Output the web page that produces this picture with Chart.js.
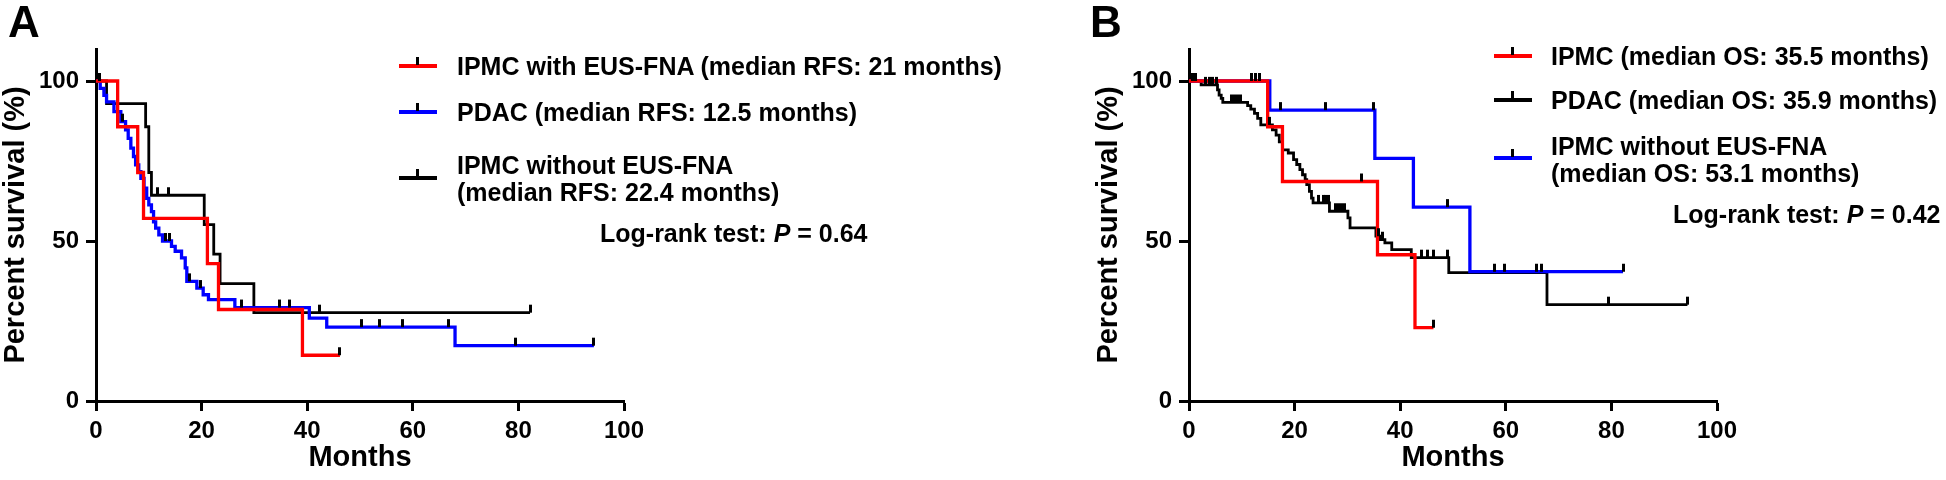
<!DOCTYPE html>
<html>
<head>
<meta charset="utf-8">
<script src="https://cdn.jsdelivr.net/npm/chart.js@4.4.1/dist/chart.umd.min.js"></script>
<style>
  html, body { margin: 0; padding: 0; background: #fff; }
  body { width: 1946px; height: 480px; position: relative; overflow: hidden;
         font-family: "Liberation Sans", Arial, sans-serif; font-weight: bold; color: #000; }
  canvas { position: absolute; top: 0; }
  #chartA { left: 0; }
  #chartB { left: 973px; }
  .panel { position: absolute; top: 0; font-size: 44px; line-height: 44px; }
  .leg { position: absolute; font-size: 25px; line-height: 27px; white-space: nowrap; }
  .sw { position: absolute; width: 38px; height: 4px; }
  .sw::after { content: ''; position: absolute; left: 17px; top: -7px; width: 3px; height: 8px; background: #000; }
</style>
</head>
<body>
<canvas id="chartA" width="973" height="480"></canvas>
<canvas id="chartB" width="973" height="480"></canvas>

<div class="panel" style="left:8px">A</div>
<div class="panel" style="left:1090px">B</div>

<!-- legend A -->
<div class="sw" style="left:399px; top:64px; background:#ff0000"></div>
<div class="leg" style="left:457px; top:53px">IPMC with EUS-FNA (median RFS: 21 months)</div>
<div class="sw" style="left:399px; top:110px; background:#0000ff"></div>
<div class="leg" style="left:457px; top:99px">PDAC (median RFS: 12.5 months)</div>
<div class="sw" style="left:399px; top:176px; background:#000"></div>
<div class="leg" style="left:457px; top:152px">IPMC without EUS-FNA<br>(median RFS: 22.4 months)</div>
<div class="leg" style="left:600px; top:220px">Log-rank test: <i>P</i> = 0.64</div>

<!-- legend B -->
<div class="sw" style="left:1494px; top:54px; background:#ff0000"></div>
<div class="leg" style="left:1551px; top:43px">IPMC (median OS: 35.5 months)</div>
<div class="sw" style="left:1494px; top:98px; background:#000"></div>
<div class="leg" style="left:1551px; top:87px">PDAC (median OS: 35.9 months)</div>
<div class="sw" style="left:1494px; top:156px; background:#0000ff"></div>
<div class="leg" style="left:1551px; top:133px">IPMC without EUS-FNA<br>(median OS: 53.1 months)</div>
<div class="leg" style="left:1673px; top:201px">Log-rank test: <i>P</i> = 0.42</div>

<script>
// axis ticks
const xTicks = [0, 20, 40, 60, 80, 100];
const yTicks = [0, 50, 100];

// Panel A - recurrence-free survival
const aIpmcWithT = [0, 4.1, 7.9, 9.0, 21.1, 23.2, 39.1, 46.2];
const aIpmcWithS = [100, 85.7, 71.4, 57.1, 42.9, 28.6, 14.3, 14.3];
const aIpmcWithCensT = [46.2];
const aIpmcWithCensS = [14.3];

const aPdacT = [0, 0.8, 1.5, 2.0, 3.4, 4.7, 5.6, 6.1, 6.6, 7.1, 7.5, 8.1, 8.5, 9.1, 9.6, 10.0, 10.5, 10.9, 11.3, 11.9,
                12.6, 14.3, 15.0, 16.2, 16.9, 17.2, 19.1, 20.3, 21.3, 26.3, 40.4, 43.7, 68.0, 94.3];
const aPdacS = [100, 97.7, 95.5, 93.5, 90.4, 87.3, 84.7, 82.1, 79.0, 76.4, 73.8, 71.7, 69.6, 66.5, 63.3, 61.3, 59.2, 56.0, 54.0, 51.9,
                50.0, 48.3, 46.8, 44.7, 41.6, 37.4, 35.3, 33.2, 31.7, 29.2, 25.9, 23.1, 17.3, 17.3];
const aPdacCensT = [5.0, 13.1, 13.9, 17.8, 19.7, 27.6, 34.7, 36.6, 50.2, 53.7, 58.0, 66.7, 79.5, 94.3];
const aPdacCensS = [87.3, 50.0, 50.0, 37.4, 35.3, 29.2, 29.2, 29.2, 23.1, 23.1, 23.1, 23.1, 17.3, 17.3];

const aIpmcWoT = [0, 2.0, 9.4, 10.0, 10.5, 20.5, 22.3, 23.5, 29.9, 82.2];
const aIpmcWoS = [100, 92.9, 85.7, 71.4, 64.3, 55.1, 45.9, 36.7, 27.6, 27.6];
const aIpmcWoCensT = [0.6, 11.6, 13.7, 42.4, 82.2];
const aIpmcWoCensS = [100, 64.3, 64.3, 27.6, 27.6];

// Panel B - overall survival
const bIpmcT = [0, 14.9, 17.7, 35.7, 42.8, 46.3];
const bIpmcS = [100, 85.7, 68.6, 45.7, 22.9, 22.9];
const bIpmcCensT = [11.8, 12.6, 13.4, 32.7, 46.3];
const bIpmcCensS = [100, 100, 100, 68.6, 22.9];

const bPdacT = [0, 2.3, 5.4, 5.7, 6.1, 6.4, 11.1, 11.7, 12.4, 13.0, 13.6, 15.8, 16.5, 17.1, 17.7, 18.8, 19.8, 20.4, 21.0, 21.5,
                22.0, 22.3, 22.8, 23.2, 23.5, 26.6, 30.1, 30.5, 35.4, 36.2, 37.1, 38.4, 42.1, 49.2, 67.8, 94.4];
const bPdacS = [100, 98.8, 97.2, 95.6, 94.6, 93.3, 92.3, 91.2, 89.9, 88.3, 86.3, 84.7, 83.1, 81.0, 78.5, 77.5, 75.4, 73.9, 72.3, 70.7,
                69.2, 67.6, 65.5, 63.4, 61.9, 59.3, 57.2, 54.1, 51.5, 50.4, 49.4, 47.3, 44.8, 40.1, 30.1, 30.1];
const bPdacCensT = [0.7, 1.2, 3.1, 3.8, 4.5, 5.2, 8.0, 8.6, 9.2, 9.8, 15.3, 24.5, 25.4, 25.9, 26.4, 27.7, 28.3, 28.9, 29.5,
                    35.9, 36.7, 44.0, 45.2, 46.3, 49.0, 79.4, 94.4];
const bPdacCensS = [100, 100, 98.8, 98.8, 98.8, 98.8, 93.3, 93.3, 93.3, 93.3, 86.3, 61.9, 61.9, 61.9, 61.9, 59.3, 59.3, 59.3, 59.3,
                    51.5, 50.4, 44.8, 44.8, 44.8, 44.8, 30.1, 30.1];

const bIpmcWoT = [0, 15.3, 35.2, 42.5, 53.2, 82.2];
const bIpmcWoS = [100, 90.9, 75.8, 60.6, 40.4, 40.4];
const bIpmcWoCensT = [17.4, 25.9, 34.9, 49.0, 57.8, 59.8, 65.9, 66.7, 82.2];
const bIpmcWoCensS = [90.9, 90.9, 90.9, 60.6, 40.4, 40.4, 40.4, 40.4, 40.4];

const FONT = '"Liberation Sans", Arial, sans-serif';
const RED = '#ff0000', BLUE = '#0000ff', BLACK = '#000000';

// short upward tick used as the censor mark
const censorMark = document.createElement('canvas');
censorMark.width = 3;
censorMark.height = 18;
const cm = censorMark.getContext('2d');
cm.fillStyle = '#000';
cm.fillRect(0, 1, 3, 8);

function pts(t, s) {
    return t.map((v, i) => ({ x: v, y: s[i] }));
}

function curve(label, t, s, color, width) {
    return {
        type: 'line', label: label, data: pts(t, s),
        borderColor: color, borderWidth: width, stepped: true,
        pointRadius: 0, fill: false, borderJoinStyle: 'miter', borderCapStyle: 'butt'
    };
}

function censors(t, s) {
    return {
        type: 'scatter', data: pts(t, s), showLine: false,
        pointStyle: censorMark, pointRadius: 5, borderWidth: 0
    };
}

function makeChart(id, padLeft, padRight, datasets) {
    return new Chart(document.getElementById(id), {
        type: 'line',
        data: { datasets: datasets },
        options: {
            responsive: false,
            animation: false,
            events: [],
            layout: { padding: { left: padLeft, right: padRight, top: 49, bottom: 0 } },
            plugins: { legend: { display: false }, tooltip: { enabled: false } },
            scales: {
                x: {
                    type: 'linear', min: 0, max: 100,
                    afterBuildTicks: s => { s.ticks = xTicks.map(v => ({ value: v })); },
                    afterFit: s => { s.height = 79; },
                    ticks: { color: '#000', padding: 6, maxRotation: 0, autoSkip: false,
                             font: { family: FONT, size: 24, weight: 'bold' } },
                    grid: { drawOnChartArea: false, tickLength: 10, tickWidth: 3, tickColor: '#000' },
                    border: { color: '#000', width: 3 },
                    title: { display: true, text: 'Months', color: '#000', padding: { top: 0, bottom: 8 },
                             font: { family: FONT, size: 29, weight: 'bold', lineHeight: 1 } }
                },
                y: {
                    type: 'linear', min: 0, max: 110,
                    afterBuildTicks: s => { s.ticks = yTicks.map(v => ({ value: v })); },
                    afterFit: s => { s.width = 96; },
                    ticks: { color: '#000', padding: 7,
                             font: { family: FONT, size: 24, weight: 'bold' } },
                    grid: { drawOnChartArea: false, tickLength: 10, tickWidth: 3, tickColor: '#000' },
                    border: { color: '#000', width: 3 },
                    title: { display: true, text: 'Percent survival (%)', color: '#000', padding: { top: 1, bottom: 0 },
                             font: { family: FONT, size: 29, weight: 'bold', lineHeight: 1 } }
                }
            }
        }
    });
}

makeChart('chartA', 0, 349, [
    censors(aIpmcWithCensT, aIpmcWithCensS),
    censors(aPdacCensT, aPdacCensS),
    censors(aIpmcWoCensT, aIpmcWoCensS),
    curve('IPMC with EUS-FNA', aIpmcWithT, aIpmcWithS, RED, 3.3),
    curve('PDAC', aPdacT, aPdacS, BLUE, 3.3),
    curve('IPMC without EUS-FNA', aIpmcWoT, aIpmcWoS, BLACK, 2.8)
]);

makeChart('chartB', 120, 229, [
    censors(bIpmcCensT, bIpmcCensS),
    censors(bPdacCensT, bPdacCensS),
    censors(bIpmcWoCensT, bIpmcWoCensS),
    curve('IPMC', bIpmcT, bIpmcS, RED, 3.3),
    curve('IPMC without EUS-FNA', bIpmcWoT, bIpmcWoS, BLUE, 3.3),
    curve('PDAC', bPdacT, bPdacS, BLACK, 2.8)
]);
</script>
</body>
</html>
